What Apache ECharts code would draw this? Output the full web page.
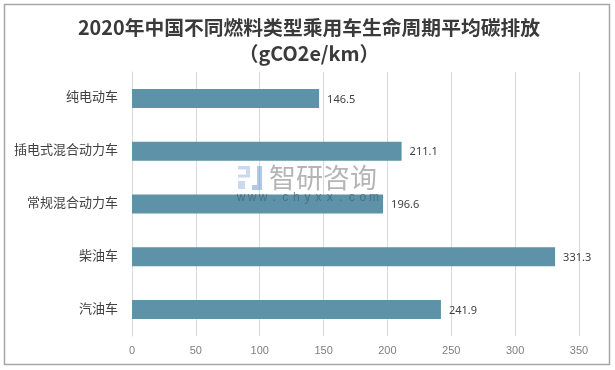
<!DOCTYPE html>
<html><head><meta charset="utf-8">
<style>html,body{margin:0;padding:0;background:#fff}#c{width:615px;height:370px}</style>
<script src="https://cdn.jsdelivr.net/npm/echarts@6/dist/echarts.min.js"></script></head>
<body><div id="c"></div>
<script>
const categories = ['纯电动车','插电式混合动力车','常规混合动力车','柴油车','汽油车'];
const values = [146.5,211.1,196.6,331.3,241.9];
const titleText = '2020年中国不同燃料类型乘用车生命周期平均碳排放\n（gCO2e/km）';
const watermarkUrl = 'www.chyxx.com';
const font = '"Noto Sans CJK SC","Noto Sans",sans-serif';
const chart = echarts.init(document.getElementById('c'),null,{renderer:'canvas'});
const pale = 'rgba(170,190,225,0.6)', deep = 'rgba(125,165,215,0.6)';
chart.setOption({
  animation:false,
  backgroundColor:'#fff',
  title:{text:titleText,left:304,top:9,textAlign:'center',
    textStyle:{fontFamily:font,fontSize:19.8,fontWeight:'bold',color:'#3a3a3a',lineHeight:26,align:'center'}},
  grid:{left:132,right:36,top:72,bottom:34,containLabel:false},
  xAxis:{type:'value',min:0,max:350,interval:50,
    axisLine:{show:false},axisTick:{show:false},
    axisLabel:{color:'#7f7f7f',fontSize:11,margin:9,fontFamily:'"Liberation Sans","Noto Sans",sans-serif'},
    splitLine:{show:true,lineStyle:{color:'#d9d9d9',width:1}}},
  yAxis:{type:'category',inverse:true,data:categories,
    axisLine:{show:true,lineStyle:{color:'#d9d9d9'}},axisTick:{show:false},
    axisLabel:{color:'#404040',fontSize:13,margin:14,verticalAlign:'bottom',lineHeight:4,fontFamily:font}},
  series:[{type:'bar',data:values,barWidth:19,
    itemStyle:{color:'#5e92a9'},
    label:{show:true,position:'right',distance:8,color:'#404040',fontSize:11,offset:[0,1],
      fontFamily:'"Noto Sans",sans-serif',formatter:p=>p.value.toFixed(1)}}],
  graphic:[
    {type:'rect',shape:{x:4.5,y:4.5,width:605,height:360},z:100,silent:true,
      style:{fill:'none',stroke:'#a6a6a6',lineWidth:1.5}},
    {type:'group',silent:true,children:[
      {type:'rect',z:90,shape:{x:238,y:166,width:12,height:3.5},style:{fill:pale}},
      {type:'rect',z:90,shape:{x:246,y:169.5,width:4,height:5},style:{fill:pale}},
      {type:'rect',z:90,shape:{x:238,y:174.5,width:12,height:3},style:{fill:pale}},
      {type:'rect',z:90,shape:{x:238,y:181,width:7,height:8},style:{fill:pale}},
      {type:'rect',z:90,shape:{x:257,y:166,width:5,height:24},style:{fill:deep}},
      {type:'rect',z:90,shape:{x:252,y:185,width:5,height:5},style:{fill:deep}},
      {type:'text',z:90,x:269,y:178,style:{text:'智研咨询',fontFamily:font,fontSize:27,fill:'rgba(150,150,150,0.7)',
        verticalAlign:'middle',textAlign:'left'}},
      ...watermarkUrl.split('').map((ch,i)=>({type:'text',z:90,x:241+i*11.08,y:197.5,style:{text:ch,
        fontFamily:'"Liberation Sans",sans-serif',fontSize:12,fill:'rgba(70,100,125,0.75)',
        verticalAlign:'middle',textAlign:'center'}}))
    ]}
  ]
});
</script></body></html>
